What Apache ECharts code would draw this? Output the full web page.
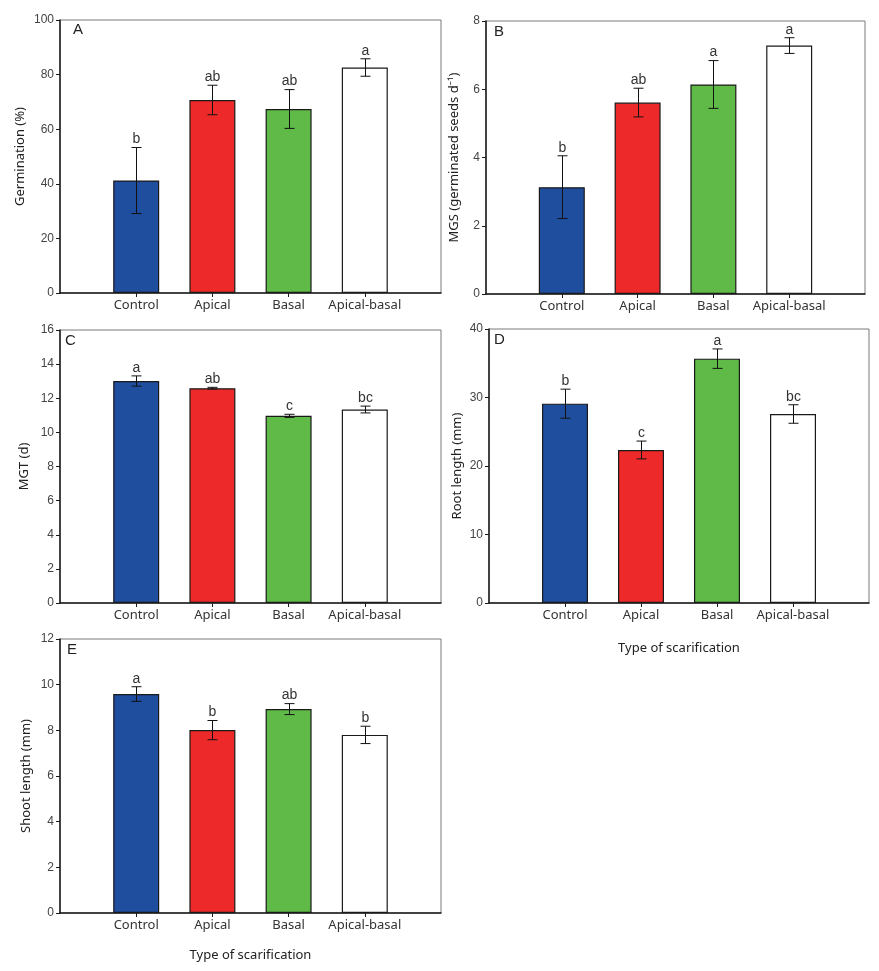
<!DOCTYPE html>
<html>
<head>
<meta charset="utf-8">
<script src="https://cdn.jsdelivr.net/npm/echarts@6/dist/echarts.min.js"></script>
<style>html,body{margin:0;padding:0;background:#fff}#c{width:879px;height:971px}</style>
</head>
<body>
<div id="c"></div>
<script>
// ---- data ----
const categories = ['Control', 'Apical', 'Basal', 'Apical-basal'];

const germMean = [41.2, 70.7, 67.4, 82.6];
const germErr = [12.1, 5.4, 7.1, 3.2];
const germLetters = ['b', 'ab', 'ab', 'a'];

const mgsMean = [3.13, 5.61, 6.14, 7.28];
const mgsErr = [0.92, 0.42, 0.70, 0.23];
const mgsLetters = ['b', 'ab', 'a', 'a'];

const mgtMean = [13.01, 12.59, 10.97, 11.34];
const mgtErr = [0.30, 0.05, 0.09, 0.20];
const mgtLetters = ['a', 'ab', 'c', 'bc'];

const rootMean = [29.1, 22.34, 35.67, 27.59];
const rootErr = [2.12, 1.30, 1.42, 1.35];
const rootLetters = ['b', 'c', 'a', 'bc'];

const shootMean = [9.59, 8.01, 8.93, 7.80];
const shootErr = [0.32, 0.42, 0.24, 0.38];
const shootLetters = ['a', 'b', 'ab', 'b'];

const panelTags = ['A', 'B', 'C', 'D', 'E'];
const yTitles = ['Germination (%)', 'MGS (germinated seeds d\u207B\u00B9)', 'MGT (d)', 'Root length (mm)', 'Shoot length (mm)'];
const yMax = [100, 8, 16, 40, 12];
const yStep = [20, 2, 2, 10, 2];
const xTitle = 'Type of scarification';

// ---- layout / style ----
const barColors = ['#1F4E9F', '#ED2A29', '#5FBA47', '#FFFFFF'];
const layout = [
  {left: 60, top: 20, width: 381, height: 273, gap: 33, tagX: 73, tagY: 22, xt: false},
  {left: 486, top: 21, width: 379, height: 273, gap: 25, tagX: 494, tagY: 24, xt: false},
  {left: 60, top: 330, width: 381, height: 273, gap: 29, tagX: 65, tagY: 333, xt: false},
  {left: 489, top: 329, width: 380, height: 274, gap: 25, tagX: 494, tagY: 332, xt: true, xgap: 39},
  {left: 60, top: 639, width: 381, height: 274, gap: 27, tagX: 67, tagY: 642, xt: true, xgap: 36}
];
const means = [germMean, mgsMean, mgtMean, rootMean, shootMean];
const errs = [germErr, mgsErr, mgtErr, rootErr, shootErr];
const letters = [germLetters, mgsLetters, mgtLetters, rootLetters, shootLetters];

const axisCats = [''].concat(categories).concat(['']);
const grids = [], xAxes = [], yAxes = [], series = [], graphics = [];

layout.forEach((L, p) => {
  grids.push({left: L.left, top: L.top, width: L.width, height: L.height, show: true,
    borderColor: '#7a7a7a', borderWidth: 1, backgroundColor: 'transparent', containLabel: false});
  xAxes.push({type: 'category', gridIndex: p, data: axisCats, boundaryGap: false,
    axisLine: {lineStyle: {color: '#1a1a1a', width: 1.5}},
    axisTick: {show: true, length: 4, interval: (i, v) => v !== '', lineStyle: {color: '#1a1a1a', width: 1}},
    axisLabel: {interval: 0, color: '#333', fontFamily: 'Noto Sans', fontSize: 13, margin: 6},
    splitLine: {show: false},
    name: L.xt ? xTitle : '', nameLocation: 'middle', nameGap: L.xgap || 30,
    nameTextStyle: {color: '#222', fontFamily: 'Noto Sans', fontSize: 13}
  });
  yAxes.push({type: 'value', gridIndex: p, min: 0, max: yMax[p], interval: yStep[p],
    axisLine: {show: true, lineStyle: {color: '#1a1a1a', width: 1.5}},
    axisTick: {show: true, length: 4, lineStyle: {color: '#1a1a1a'}},
    axisLabel: {color: '#444', fontFamily: 'Liberation Sans', fontSize: 12, margin: 6},
    splitLine: {show: false},
    name: yTitles[p], nameLocation: 'middle', nameGap: L.gap,
    nameTextStyle: {color: '#222', fontFamily: 'Noto Sans', fontSize: 13}
  });
  const m = means[p];
  series.push({type: 'bar', xAxisIndex: p, yAxisIndex: p, barWidth: 46,
    data: ['-'].concat(m.map((v, i) => ({value: v, itemStyle: {color: barColors[i]}}))).concat(['-']),
    itemStyle: {borderColor: '#1a1a1a', borderWidth: 1.2},
    silent: true, animation: false, z: 2
  });
  const e = errs[p], lt = letters[p];
  series.push({type: 'custom', xAxisIndex: p, yAxisIndex: p, z: 5, animation: false, silent: true,
    data: m.map((v, i) => [i + 1, v - e[i], v + e[i]]),
    encode: {x: 0, y: [1, 2]},
    renderItem: (params, api) => {
      const xi = api.value(0);
      const lo = api.coord([xi, api.value(1)]);
      const hi = api.coord([xi, api.value(2)]);
      const x = Math.round(lo[0]) + 0.5;
      const cap = 5;
      const ls = {stroke: '#111', lineWidth: 1};
      return {type: 'group', children: [
        {type: 'line', shape: {x1: x, y1: lo[1], x2: x, y2: hi[1]}, style: ls},
        {type: 'line', shape: {x1: x - cap, y1: hi[1], x2: x + cap, y2: hi[1]}, style: ls},
        {type: 'line', shape: {x1: x - cap, y1: lo[1], x2: x + cap, y2: lo[1]}, style: ls},
        {type: 'text', x: x, y: hi[1] - 1, style: {text: lt[params.dataIndex], fill: '#333',
          font: '14px "Liberation Sans Narrow", "Liberation Sans", sans-serif', align: 'center', verticalAlign: 'bottom'}}
      ]};
    }
  });
  graphics.push({type: 'text', left: L.tagX, top: L.tagY,
    style: {text: panelTags[p], fill: '#222', font: '15px "Liberation Sans", Arial, sans-serif'}});
});

const chart = echarts.init(document.getElementById('c'), null, {renderer: 'canvas'});
chart.setOption({
  backgroundColor: '#fff',
  animation: false,
  grid: grids, xAxis: xAxes, yAxis: yAxes, series: series, graphic: graphics
});
</script>
</body>
</html>
